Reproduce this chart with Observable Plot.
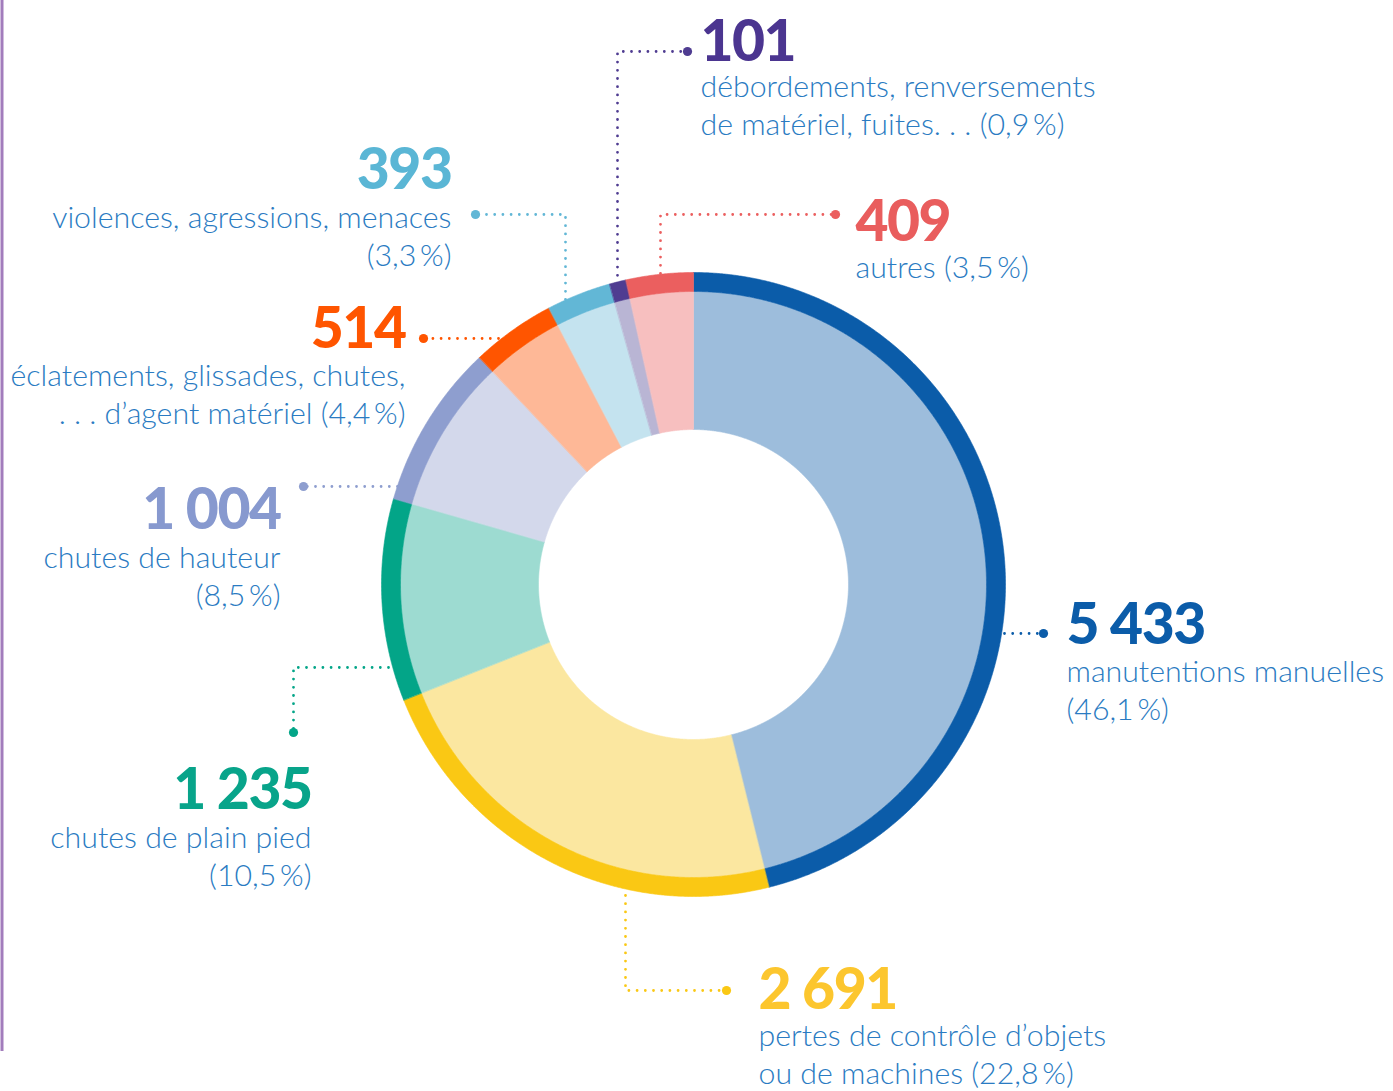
<!DOCTYPE html>
<html>
<head>
<meta charset="utf-8">
<script src="https://cdn.jsdelivr.net/npm/d3@7"></script>
<script src="https://cdn.jsdelivr.net/npm/@observablehq/plot@0.6"></script>
<style>
  html, body { margin: 0; padding: 0; background: #fff; }
  #chart svg { display: block; }
  .num text { letter-spacing: -1.5px; }
</style>
</head>
<body>
<div id="chart"></div>
<script>
// ---------- DATA ----------
const categories = [
  "manutentions manuelles",
  "pertes de contrôle d’objets ou de machines",
  "chutes de plain pied",
  "chutes de hauteur",
  "éclatements, glissades, chutes, … d’agent matériel",
  "violences, agressions, menaces",
  "débordements, renversements de matériel, fuites…",
  "autres"
];
const values = [5433, 2691, 1235, 1004, 514, 393, 101, 409];
// label lines as printed; {p} is replaced by the computed share
const labelLines = [
  ["manutentions manuelles", "({p})"],
  ["pertes de contrôle d’objets", "ou de machines ({p})"],
  ["chutes de plain pied", "({p})"],
  ["chutes de hauteur", "({p})"],
  ["éclatements, glissades, chutes,", ". . . d’agent matériel ({p})"],
  ["violences, agressions, menaces", "({p})"],
  ["débordements, renversements", "de matériel, fuites. . . ({p})"],
  ["autres ({p})"]
];

// ---------- STYLES ----------
const darkColors  = ["#0b5ca9", "#fac814", "#03a588", "#8e9ecf", "#ff5500", "#62b7d6", "#4f3c91", "#eb5f5f"];
const lightColors = ["#9dbddc", "#fbe7a0", "#9ddbd1", "#d3d8eb", "#feb897", "#c4e3ef", "#b9b5d4", "#f7bfbf"];
const numberColors = ["#0b5ca9", "#fcc62e", "#08a48a", "#8799cf", "#ff5500", "#5ab6d5", "#4b3590", "#e95d5d"];
const labelColor = "#2a7bc2";

// ---------- LAYOUT (chart units = pixels) ----------
const W = 1393, H = 1091;
const cx = 693, cy = 584;
const rInner = 155, rMid = 293, rOuter = 312;
const layout = [
  {x: 1066, anchor: "start", numY: 643,  lineY: [681, 719],  leader: [[1004, 633], [1043, 633]]},
  {x: 758,  anchor: "start", numY: 1008, lineY: [1045, 1083], leader: [[625, 895], [625, 990], [726, 990]]},
  {x: 311,  anchor: "end",   numY: 808,  lineY: [847, 885],  leader: [[388, 667], [293, 667], [293, 732]]},
  {x: 280,  anchor: "end",   numY: 528,  lineY: [567, 605],  leader: [[397, 486], [303, 486]]},
  {x: 405,  anchor: "end",   numY: 347,  lineY: [385, 423],  leader: [[498, 338], [423, 338]]},
  {x: 451,  anchor: "end",   numY: 188,  lineY: [227, 265],  leader: [[565, 299], [565, 214], [475, 214]]},
  {x: 700,  anchor: "start", numY: 60,   lineY: [96, 134],   leader: [[617, 283], [617, 51], [687, 51]]},
  {x: 855,  anchor: "start", numY: 240,  lineY: [277],       leader: [[660, 273], [660, 214], [835, 214]]}
];

// ---------- DERIVED ----------
const total = d3.sum(values);
const pctFmt = v => (Math.round(v / total * 1000) / 10).toFixed(1).replace(".", ",") + "\u2009%";
const numFmt = v => d3.format(",")(v).replace(/,/g, "\u00a0");

let cum = 0;
const slices = values.map((v, i) => {
  const a0 = cum / total * 2 * Math.PI;
  cum += v;
  const a1 = cum / total * 2 * Math.PI;
  return {i, a0, a1};
});

function ring(key, a0, a1, r0, r1, color) {
  const n = Math.max(2, Math.ceil((a1 - a0) / (Math.PI / 720)));
  const pts = [];
  for (let k = 0; k <= n; k++) {
    const a = a0 + (a1 - a0) * k / n;
    pts.push({key, color, x: cx + r1 * Math.sin(a), y: cy - r1 * Math.cos(a)});
  }
  for (let k = n; k >= 0; k--) {
    const a = a0 + (a1 - a0) * k / n;
    pts.push({key, color, x: cx + r0 * Math.sin(a), y: cy - r0 * Math.cos(a)});
  }
  return pts;
}

const slicePoints = slices.flatMap(s => [
  ...ring("light" + s.i, s.a0, s.a1, rInner, rMid, lightColors[s.i]),
  ...ring("dark" + s.i, s.a0, s.a1, rMid, rOuter, darkColors[s.i])
]);

const leaderPoints = layout.flatMap((l, i) => l.leader.map(([x, y]) => ({i, x, y, color: darkColors[i]})));
const leaderEnds = layout.map((l, i) => {
  const [x, y] = l.leader[l.leader.length - 1];
  return {x, y, color: darkColors[i]};
});

const numberRows = values.map((v, i) => ({
  x: layout[i].x, y: layout[i].numY, text: numFmt(v), color: numberColors[i], anchor: layout[i].anchor
}));
const labelRows = labelLines.flatMap((lines, i) => lines.map((t, j) => ({
  x: layout[i].x, y: layout[i].lineY[j], text: t.replace("{p}", pctFmt(values[i])), anchor: layout[i].anchor
})));

const textMarks = [];
for (const anchor of ["start", "end"]) {
  textMarks.push(Plot.text(numberRows.filter(d => d.anchor === anchor), {
    x: "x", y: "y", text: "text", fill: "color", textAnchor: anchor, lineAnchor: "bottom",
    fontSize: 57, fontWeight: 900, className: "num"
  }));
  textMarks.push(Plot.text(labelRows.filter(d => d.anchor === anchor), {
    x: "x", y: "y", text: "text", fill: labelColor, textAnchor: anchor, lineAnchor: "bottom",
    fontSize: 30.3, fontWeight: 300
  }));
}

const chart = Plot.plot({
  width: W,
  height: H,
  margin: 0,
  x: {domain: [0, W], range: [0, W], axis: null},
  y: {domain: [0, H], range: [0, H], axis: null},
  color: {type: "identity"},
  style: {fontFamily: "Lato, 'Open Sans', sans-serif", background: "#fff"},
  marks: [
    Plot.ruleX([1.5], {y1: 0, y2: 1051, stroke: "#a27cbc", strokeWidth: 3}),
    Plot.line(slicePoints, {x: "x", y: "y", z: "key", fill: "color", stroke: "color", strokeWidth: 0.6, curve: "linear-closed"}),
    Plot.line(leaderPoints, {x: "x", y: "y", z: "i", stroke: "color", strokeWidth: 2.8, strokeDasharray: "0 8.2", strokeLinecap: "round", strokeLinejoin: "round"}),
    Plot.dot(leaderEnds, {x: "x", y: "y", r: 4.6, fill: "color", stroke: null}),
    ...textMarks
  ]
});
document.getElementById("chart").append(chart);
</script>
</body>
</html>
